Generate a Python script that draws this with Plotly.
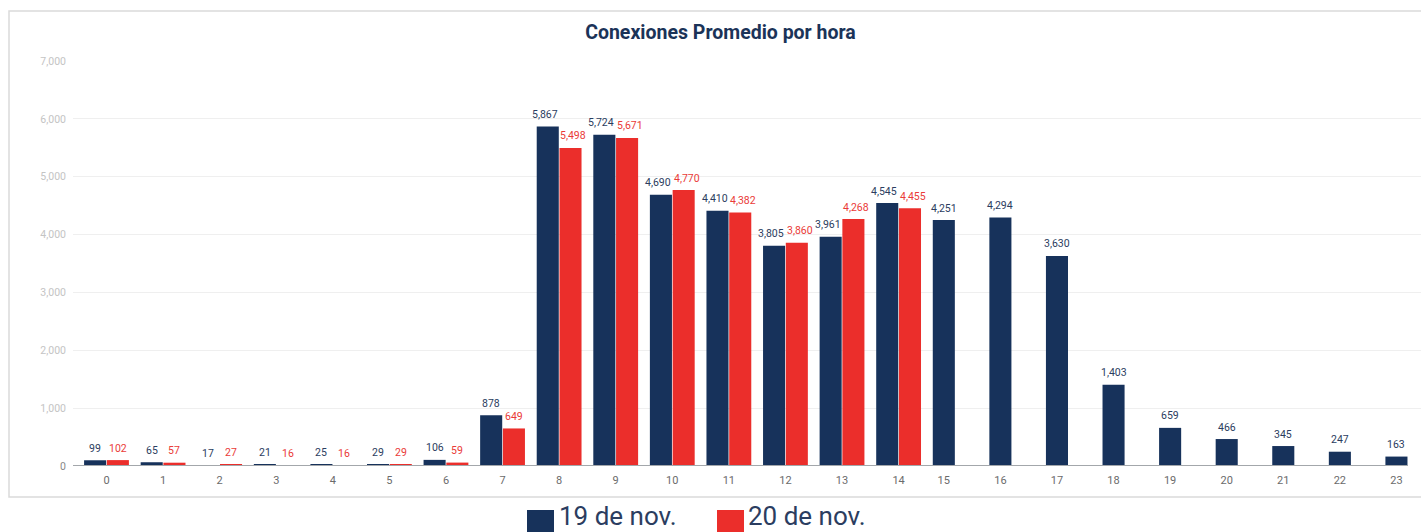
import plotly.graph_objects as go

hours = list(range(24))
series_names = ["19 de nov.", "20 de nov."]
nov19 = [99, 65, 17, 21, 25, 29, 106, 878, 5867, 5724, 4690, 4410, 3805, 3961,
         4545, 4251, 4294, 3630, 1403, 659, 466, 345, 247, 163]
nov20 = [102, 57, 27, 16, 16, 29, 59, 649, 5498, 5671, 4770, 4382, 3860, 4268,
         4455, None, None, None, None, None, None, None, None, None]
y_ticks = [0, 1000, 2000, 3000, 4000, 5000, 6000, 7000]
title_text = "Conexiones Promedio por hora"

NAVY = "#17325B"
RED = "#EB2E2B"
NAVY_TXT = "#2B3D60"
RED_TXT = "#EA3B38"
FONT = "Roboto"
LBL_SIZE = 10.5

BAR_W = 0.39
GAP = 0.012

W, H = 1421, 532
ML, MR, MT, MB = 73, 0, 61, 66
PW = W - ML - MR
PH = H - MT - MB

# x range (px -> data)
X0 = -0.592
X1 = 23.233
PX_PER_UNIT = PW / (X1 - X0)

def fmt(v):
    return "" if v is None else f"{v:,}"

def label_w(v):
    s = fmt(v)
    return LBL_SIZE * sum(0.197 if c == "," else 0.562 for c in s)

fig = go.Figure()
fig.add_trace(go.Bar(
    x=hours, y=nov19, name=series_names[0],
    width=BAR_W, offset=-BAR_W - GAP / 2,
    marker=dict(color=NAVY, line=dict(width=0)),
    showlegend=False, hoverinfo="x+y",
))
fig.add_trace(go.Bar(
    x=hours, y=nov20, name=series_names[1],
    width=BAR_W, offset=GAP / 2,
    marker=dict(color=RED, line=dict(width=0)),
    showlegend=False, hoverinfo="x+y",
))

# value labels (annotations anchored on the bar tops, nudged apart if they collide)
annotations = []
centre_dist = (BAR_W + GAP) * PX_PER_UNIT
for i, h in enumerate(hours):
    a, b = nov19[i], nov20[i]
    shift = 0.0
    if b is not None:
        need = (label_w(a) + label_w(b)) / 2 + 3
        if need > centre_dist:
            shift = (need - centre_dist) / 2
    xa = h - (BAR_W + GAP) / 2
    annotations.append(dict(x=xa, y=a, xref="x", yref="y", text=fmt(a),
                            showarrow=False, xanchor="center", yanchor="middle",
                            xshift=-shift, yshift=12,
                            font=dict(family=FONT, size=LBL_SIZE, color=NAVY_TXT)))
    if b is not None:
        xb = h + (BAR_W + GAP) / 2
        annotations.append(dict(x=xb, y=b, xref="x", yref="y", text=fmt(b),
                                showarrow=False, xanchor="center", yanchor="middle",
                                xshift=shift, yshift=12,
                                font=dict(family=FONT, size=LBL_SIZE, color=RED_TXT)))

tickvals = [h if nov20[i] is not None else h - (BAR_W + GAP) / 2 for i, h in enumerate(hours)]
ticktext = [str(h) for h in hours]

ytext = [("<span style='color:#888888'>0</span>" if v == 0 else f"{v:,}") for v in y_ticks]

def px_x(p):
    return (p - ML) / PW

def px_y(p):
    return (H - MB - p) / PH

shapes = [
    # outer border box
    dict(type="rect", xref="paper", yref="paper",
         x0=px_x(9), x1=px_x(1440), y0=px_y(497), y1=px_y(11),
         line=dict(color="#DADADA", width=1.5), fillcolor="rgba(0,0,0,0)", layer="below"),
    # baseline axis line
    dict(type="line", xref="x", yref="y", x0=X0, x1=hours[-1], y0=0, y1=0,
         line=dict(color="#A3A7AB", width=2), layer="above"),
    # legend squares
    dict(type="rect", xref="paper", yref="paper",
         x0=px_x(527), x1=px_x(554), y0=px_y(537), y1=px_y(510),
         fillcolor=NAVY, line=dict(width=0)),
    dict(type="rect", xref="paper", yref="paper",
         x0=px_x(717), x1=px_x(744), y0=px_y(537), y1=px_y(510),
         fillcolor=RED, line=dict(width=0)),
]

annotations += [
    dict(text=series_names[0], xref="paper", yref="paper", x=px_x(557), y=px_y(516),
         xanchor="left", yanchor="middle", showarrow=False,
         font=dict(family=FONT, size=26, color=NAVY_TXT)),
    dict(text=series_names[1], xref="paper", yref="paper", x=px_x(746), y=px_y(516),
         xanchor="left", yanchor="middle", showarrow=False,
         font=dict(family=FONT, size=26, color=NAVY_TXT)),
]

fig.update_layout(
    width=W, height=H,
    margin=dict(l=ML, r=MR, t=MT, b=MB, pad=0),
    paper_bgcolor="white", plot_bgcolor="white",
    barmode="overlay",
    font=dict(family=FONT),
    title=dict(text=f"<b>{title_text}</b>", x=720.5 / W, xanchor="center",
               y=1 - 32 / H, yanchor="middle", yref="container",
               font=dict(family=FONT, size=19.5, color="#1B3358")),
    xaxis=dict(range=[X0, X1], tickvals=tickvals, ticktext=ticktext,
               showgrid=False, zeroline=False, showline=False, ticks="",
               tickfont=dict(family=FONT, size=11, color="#6B6B6B"),
               ticklabelstandoff=6, fixedrange=True),
    yaxis=dict(range=[0, 7000], tickvals=y_ticks, ticktext=ytext,
               showgrid=True, gridcolor="#EFEFEF", gridwidth=1,
               zeroline=False, showline=False, ticks="",
               tickfont=dict(family=FONT, size=10.5, color="#C4C4C4"),
               ticklabelstandoff=6, fixedrange=True),
    shapes=shapes,
    annotations=annotations,
    showlegend=False,
)

fig.write_html("out.html", config={"displayModeBar": False},
               post_script="document.body.style.margin='0';document.body.style.overflow='hidden';")
